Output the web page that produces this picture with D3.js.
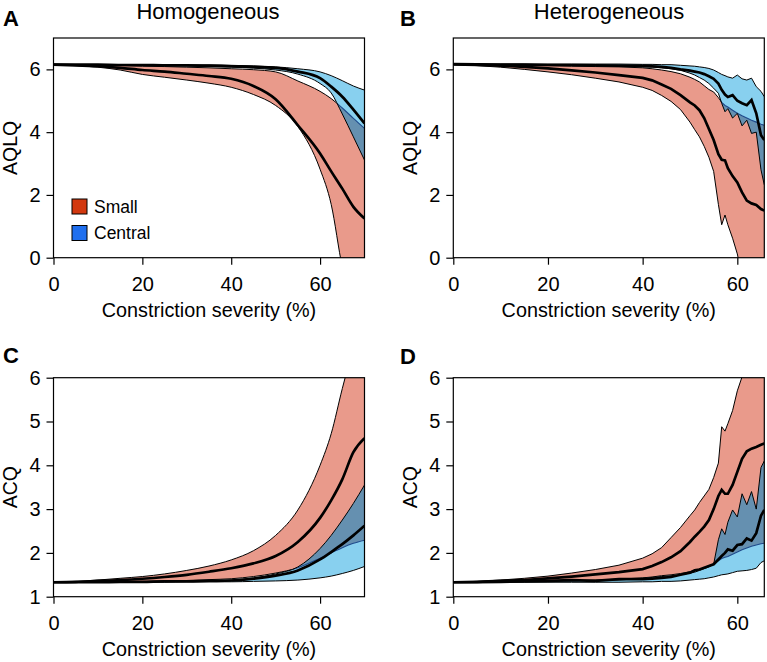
<!DOCTYPE html>
<html><head><meta charset="utf-8">
<script src="https://cdn.jsdelivr.net/npm/d3@7"></script>
<style>
body{margin:0;background:#fff}
svg{display:block}
text{font-family:"Liberation Sans",Arial,Helvetica,sans-serif;fill:#000}
</style></head>
<body><svg id="chart" width="767" height="662"></svg>
<script>
// ---------- DATA ----------
const xHomog = [0,5,10,15,20,25,30,35,40,45,50,55,60,62.5,65,67.5,70];
const xHeter = [0,5,10,15,20,25,30,35,40,42,44,46,48,50,51,52,53,54,55,56,56.7,57.4,58,59,60,61,62,63,64,65,65.7];

// Panel A – AQLQ, homogeneous
const aSmallLo   = [6.15,6.12,6.07,5.98,5.84,5.75,5.66,5.56,5.43,5.2,4.85,4.18,2.82,1.7,-0.3,-1.6,-2.9];
const aSmallMed  = [6.15,6.13,6.1,6.05,5.98,5.93,5.86,5.79,5.7,5.47,5.05,4.22,3.32,2.75,2.2,1.62,1.25];
const aSmallHi   = [6.15,6.14,6.13,6.12,6.1,6.09,6.07,6.05,6.02,5.99,5.92,5.63,5.3,5.07,4.77,4.44,4.12];
const aCentralLo = [6.15,6.15,6.14,6.14,6.13,6.12,6.11,6.09,6.07,6.04,5.98,5.85,5.55,5.25,4.58,3.85,3.11];
const aCentralMed= [6.15,6.15,6.15,6.14,6.14,6.13,6.13,6.12,6.1,6.08,6.05,5.93,5.72,5.45,5.13,4.72,4.28];
const aCentralHi = [6.15,6.15,6.15,6.15,6.15,6.14,6.14,6.14,6.13,6.11,6.08,6.02,5.92,5.8,5.64,5.47,5.34];

// Panel B – AQLQ, heterogeneous
const bSmallLo   = [6.16,6.12,6.07,6.0,5.92,5.83,5.72,5.6,5.43,5.33,5.17,4.98,4.72,4.32,4.08,3.85,3.55,3.2,2.75,1.7,1.05,1.36,1.05,0.62,0.12,-0.6,-1.3,-2,-2.7,-3.4,-3.9];
const bSmallMed  = [6.16,6.14,6.12,6.08,6.03,5.97,5.9,5.82,5.73,5.65,5.52,5.38,5.18,4.95,4.85,4.7,4.45,4.1,3.75,3.3,3.12,3.1,2.85,2.6,2.4,2.08,1.82,1.73,1.68,1.55,1.5];
const bSmallHi   = [6.16,6.15,6.14,6.13,6.12,6.1,6.09,6.08,6.05,6.02,5.98,5.93,5.86,5.75,5.68,5.6,5.48,5.36,5.28,5.1,4.95,4.85,4.8,4.7,4.6,4.52,4.45,4.38,4.32,4.25,4.22];
const bCentralLo = [6.17,6.16,6.15,6.15,6.14,6.13,6.12,6.11,6.08,6.07,6.05,6.02,5.97,5.88,5.82,5.74,5.66,5.55,5.4,5.24,4.92,4.65,4.75,4.45,4.6,4.2,4.38,3.96,4.0,2.8,2.32];
const bCentralMed= [6.17,6.16,6.15,6.15,6.14,6.14,6.13,6.12,6.11,6.1,6.08,6.05,6.0,5.96,5.93,5.9,5.85,5.78,5.7,5.55,5.35,5.2,5.12,5.18,5.0,4.92,4.86,5.02,4.6,3.9,3.75];
const bCentralHi = [6.17,6.17,6.17,6.17,6.17,6.17,6.17,6.17,6.16,6.16,6.15,6.15,6.13,6.11,6.1,6.08,6.06,6.03,5.98,5.9,5.84,5.8,5.76,5.72,5.82,5.7,5.66,5.72,5.45,5.3,5.13];

// Panel C – ACQ, homogeneous
const cSmallLo   = [1.33,1.33,1.34,1.34,1.35,1.36,1.37,1.39,1.41,1.46,1.54,1.66,1.88,2.0,2.12,2.22,2.29];
const cSmallMed  = [1.33,1.34,1.36,1.38,1.41,1.45,1.5,1.57,1.65,1.76,1.93,2.25,2.8,3.2,3.68,4.3,4.62];
const cSmallHi   = [1.33,1.35,1.38,1.42,1.46,1.52,1.6,1.7,1.84,2.05,2.4,2.98,4.0,4.72,5.75,6.7,7.6];
const cCentralLo = [1.33,1.33,1.33,1.33,1.33,1.33,1.34,1.34,1.34,1.35,1.36,1.38,1.43,1.47,1.53,1.6,1.69];
const cCentralMed= [1.33,1.33,1.33,1.34,1.34,1.35,1.35,1.36,1.37,1.41,1.48,1.6,1.85,2.02,2.2,2.4,2.62];
const cCentralHi = [1.33,1.33,1.34,1.34,1.34,1.35,1.36,1.37,1.38,1.43,1.52,1.68,2.1,2.4,2.75,3.13,3.55];

// Panel D – ACQ, heterogeneous
const dSmallLo   = [1.33,1.33,1.34,1.35,1.36,1.37,1.38,1.4,1.43,1.45,1.48,1.5,1.53,1.57,1.6,1.63,1.66,1.7,1.75,1.82,1.87,1.9,1.92,1.97,2.02,2.07,2.11,2.15,2.18,2.21,2.22];
const dSmallMed  = [1.33,1.34,1.36,1.38,1.42,1.46,1.51,1.56,1.63,1.7,1.79,1.9,2.04,2.25,2.37,2.48,2.6,2.75,3.0,3.3,3.44,3.35,3.35,3.55,3.85,4.15,4.32,4.38,4.42,4.47,4.5];
const dSmallHi   = [1.33,1.35,1.38,1.42,1.47,1.54,1.62,1.72,1.88,1.98,2.12,2.35,2.58,2.85,2.98,3.15,3.3,3.45,3.72,4.05,4.88,4.78,4.95,5.25,5.7,6.02,6.4,6.9,7.4,7.9,8.2];
const dCentralLo = [1.33,1.33,1.33,1.33,1.33,1.33,1.33,1.33,1.34,1.34,1.35,1.35,1.36,1.38,1.39,1.4,1.41,1.43,1.45,1.48,1.5,1.51,1.52,1.55,1.58,1.59,1.6,1.62,1.65,1.78,1.82];
const dCentralMed= [1.33,1.33,1.34,1.35,1.36,1.38,1.36,1.4,1.4,1.41,1.43,1.45,1.5,1.55,1.6,1.62,1.66,1.7,1.74,1.85,1.93,2.0,2.08,2.05,2.18,2.2,2.33,2.28,2.45,2.85,2.98];
const dCentralHi = [1.33,1.33,1.34,1.35,1.35,1.36,1.37,1.38,1.42,1.44,1.46,1.48,1.5,1.54,1.56,1.6,1.64,1.68,1.74,2.3,2.55,2.42,2.7,2.98,2.82,3.35,3.1,3.4,3.0,3.95,4.1];

const xTicks = [0,20,40,60];
const aqlqTicks = [0,2,4,6];
const acqTicks = [1,2,3,4,5,6];
const columnTitles = ["Homogeneous","Heterogeneous"];
const legendLabels = ["Small","Central"];

// ---------- STYLE ----------
const C = {salmon:"#E99A8B", lightBlue:"#88D0EF", steel:"#6590B0", darkBlue:"#1F4A8C",
           legRed:"#D2380F", legBlue:"#1F6FEF"};

const svg = d3.select("#chart");
const defs = svg.append("defs");

const panels = [
  {id:"A", x0:53.5, x1:364.5, yTop:38, yBot:257.7, xMax:70, yDom:[0,7], ticks:aqlqTicks, yLabel:"AQLQ",
   xs:xHomog, small:[aSmallLo,aSmallMed,aSmallHi], central:[aCentralLo,aCentralMed,aCentralHi], smooth:true,
   letterX:3, letterY:26, labX:17, legend:true},
  {id:"B", x0:453.3, x1:764.3, yTop:38, yBot:257.7, xMax:65.7, yDom:[0,7], ticks:aqlqTicks, yLabel:"AQLQ",
   xs:xHeter, small:[bSmallLo,bSmallMed,bSmallHi], central:[bCentralLo,bCentralMed,bCentralHi], smooth:false,
   letterX:400, letterY:26, labX:416.5},
  {id:"C", x0:53.5, x1:364.5, yTop:377.7, yBot:596.7, xMax:70, yDom:[1,6], ticks:acqTicks, yLabel:"ACQ",
   xs:xHomog, small:[cSmallLo,cSmallMed,cSmallHi], central:[cCentralLo,cCentralMed,cCentralHi], smooth:true,
   letterX:3, letterY:363, labX:17},
  {id:"D", x0:453.3, x1:764.3, yTop:377.7, yBot:596.7, xMax:65.7, yDom:[1,6], ticks:acqTicks, yLabel:"ACQ",
   xs:xHeter, small:[dSmallLo,dSmallMed,dSmallHi], central:[dCentralLo,dCentralMed,dCentralHi], smooth:false,
   letterX:400, letterY:364, labX:416.5}
];

panels.forEach(p => {
  const x = d3.scaleLinear().domain([0,p.xMax]).range([p.x0,p.x1]);
  const y = d3.scaleLinear().domain(p.yDom).range([p.yBot,p.yTop]);
  const curve = p.smooth ? d3.curveMonotoneX : d3.curveLinear;
  const idx = d3.range(p.xs.length);

  const area = (lo,hi) => d3.area().curve(curve).x(i=>x(p.xs[i])).y0(i=>y(lo[i])).y1(i=>y(hi[i]))(idx);
  const line = (v) => d3.line().curve(curve).x(i=>x(p.xs[i])).y(i=>y(v[i]))(idx);

  const smallArea = area(p.small[0], p.small[2]);
  const centralArea = area(p.central[0], p.central[2]);

  defs.append("clipPath").attr("id","plot"+p.id).append("rect")
    .attr("x",p.x0).attr("y",p.yTop).attr("width",p.x1-p.x0).attr("height",p.yBot-p.yTop);
  defs.append("clipPath").attr("id","small"+p.id).append("path").attr("d",smallArea);
  defs.append("clipPath").attr("id","central"+p.id).append("path").attr("d",centralArea);

  const g = svg.append("g").attr("clip-path",`url(#plot${p.id})`);

  // small band
  g.append("path").attr("d",smallArea).attr("fill",C.salmon).attr("stroke","none");
  g.append("path").attr("d",line(p.small[0])).attr("fill","none").attr("stroke","#000").attr("stroke-width",1);
  g.append("path").attr("d",line(p.small[2])).attr("fill","none").attr("stroke","#000").attr("stroke-width",1);
  g.append("path").attr("d",line(p.small[1])).attr("fill","none").attr("stroke","#000").attr("stroke-width",2.7);

  // central band
  g.append("path").attr("d",centralArea).attr("fill",C.lightBlue).attr("stroke","none");
  g.append("g").attr("clip-path",`url(#small${p.id})`)
    .append("path").attr("d",centralArea).attr("fill",C.steel).attr("stroke","none");
  const under = g.append("g").attr("clip-path",`url(#central${p.id})`);
  under.append("path").attr("d",line(p.small[0])).attr("fill","none").attr("stroke",C.darkBlue).attr("stroke-width",1.1);
  under.append("path").attr("d",line(p.small[2])).attr("fill","none").attr("stroke",C.darkBlue).attr("stroke-width",1.1);
  g.append("path").attr("d",line(p.central[0])).attr("fill","none").attr("stroke","#000").attr("stroke-width",1);
  g.append("path").attr("d",line(p.central[2])).attr("fill","none").attr("stroke","#000").attr("stroke-width",1);
  g.append("path").attr("d",line(p.central[1])).attr("fill","none").attr("stroke","#000").attr("stroke-width",2.7);

  // box
  svg.append("rect").attr("x",p.x0).attr("y",p.yTop).attr("width",p.x1-p.x0).attr("height",p.yBot-p.yTop)
    .attr("fill","none").attr("stroke","#000").attr("stroke-width",1.2);

  // axes
  const xa = svg.append("g").attr("transform",`translate(0,${p.yBot})`)
    .call(d3.axisBottom(x).tickValues(xTicks).tickSize(7).tickPadding(12).tickFormat(d3.format("d")));
  const ya = svg.append("g").attr("transform",`translate(${p.x0},0)`)
    .call(d3.axisLeft(y).tickValues(p.ticks).tickSize(7).tickPadding(6).tickFormat(d3.format("d")));
  [xa,ya].forEach(a=>{
    a.select(".domain").remove();
    a.selectAll("line").attr("stroke","#000").attr("stroke-width",1.2);
    a.selectAll("text").attr("font-size",20).attr("font-family",'"Liberation Sans",Arial,sans-serif').attr("fill","#000");
  });

  // axis titles
  svg.append("text").attr("x",(p.x0+p.x1)/2).attr("y",p.yBot+59).attr("text-anchor","middle")
    .attr("font-size",19.8).text("Constriction severity (%)");
  svg.append("text").attr("transform",`translate(${p.labX},${(p.yTop+p.yBot)/2}) rotate(-90)`)
    .attr("text-anchor","middle").attr("font-size",19.5).text(p.yLabel);

  // panel letter
  svg.append("text").attr("x",p.letterX).attr("y",p.letterY).attr("font-size",22)
    .attr("font-weight","bold").text(p.id);

  // legend
  if (p.legend) {
    const lg = svg.append("g");
    [C.legRed, C.legBlue].forEach((col,i)=>{
      lg.append("rect").attr("x",72).attr("y",199+i*26.5).attr("width",15).attr("height",15)
        .attr("fill",col).attr("stroke","#000").attr("stroke-width",1);
      lg.append("text").attr("x",94).attr("y",206.5+i*26.5).attr("dy","0.35em")
        .attr("font-size",17.5).text(legendLabels[i]);
    });
  }
});

// column titles
svg.append("text").attr("x",208).attr("y",19).attr("text-anchor","middle").attr("font-size",22).text(columnTitles[0]);
svg.append("text").attr("x",609).attr("y",19).attr("text-anchor","middle").attr("font-size",22).text(columnTitles[1]);
</script>
</body></html>
